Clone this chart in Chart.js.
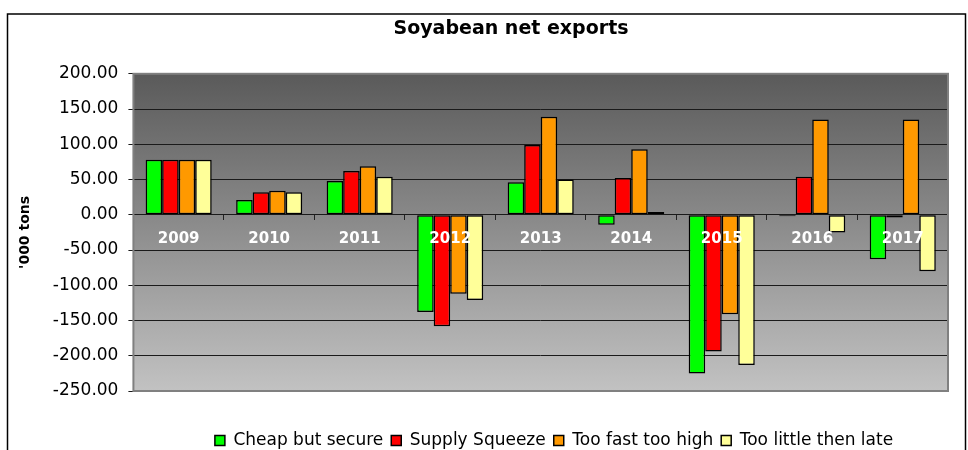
<!DOCTYPE html>
<html>
<head>
<meta charset="utf-8">
<script src="https://cdn.jsdelivr.net/npm/chart.js@4"></script>
<style>
  html, body { margin: 0; padding: 0; background: #fff; }
  #wrap { width: 968px; height: 450px; position: relative; }
</style>
</head>
<body>
<div id="wrap"><canvas id="chart"></canvas></div>
<script>
// categories and series
const years = ["2009", "2010", "2011", "2012", "2013", "2014", "2015", "2016", "2017"];
const cheapButSecure = [78, 21, 48, -138, 46, -14, -225, -2, -63];
const supplySqueeze = [78, 32, 62, -158, 99, 52, -194, 54, -4];
const tooFastTooHigh = [78, 34, 69, -112, 139, 93, -141, 135, 135];
const tooLittleThenLate = [78, 32, 54, -121, 50, 4, -213, -25, -80];

const seriesNames = ["Cheap but secure", "Supply Squeeze", "Too fast too high", "Too little then late"];
const seriesColors = ["#00ff00", "#ff0000", "#ff9900", "#ffff99"];

// grey gradient behind the plot, outer frame, and nudges for title/legend
const backdrop = {
    id: "backdrop",
    afterLayout(chart) {
        // title sits a bit right of the canvas centre in the original
        const t = chart.titleBlock;
        let w = t.right - t.left;
        t.left = 511 - w / 2;
        t.right = 511 + w / 2;
        // legend is centred under the plot and pushed down to the bottom edge
        const lg = chart.legend;
        w = lg.right - lg.left;
        lg.left = 554 - w / 2;
        lg.right = 554 + w / 2;
        lg.top += 33;
        lg.bottom += 33;
    },
    beforeDraw(chart) {
        const ctx = chart.ctx;
        const a = chart.chartArea;
        ctx.save();
        ctx.strokeStyle = "#000";
        ctx.lineWidth = 1.5;
        ctx.strokeRect(7.5, 14, 958, 460);
        let grad = ctx.createLinearGradient(0, a.top, 0, a.bottom);
        grad.addColorStop(0, "#5a5a5a");
        grad.addColorStop(1, "#c2c2c2");
        ctx.fillStyle = grad;
        ctx.fillRect(a.left, a.top, a.right - a.left, a.bottom - a.top);
        ctx.restore();
    },
    afterDraw(chart) {
        const ctx = chart.ctx;
        const a = chart.chartArea;
        ctx.save();
        ctx.strokeStyle = "#808080";
        ctx.lineWidth = 2;
        ctx.strokeRect(a.left, a.top, a.right - a.left, a.bottom - a.top);
        ctx.restore();
    }
};

const seriesData = [cheapButSecure, supplySqueeze, tooFastTooHigh, tooLittleThenLate];

new Chart(document.getElementById("chart"), {
    type: "bar",
    data: {
        labels: years,
        datasets: seriesData.map((vals, i) => ({
            label: seriesNames[i],
            data: vals,
            backgroundColor: seriesColors[i],
            borderColor: "#000",
            borderWidth: 1.5,
            borderSkipped: false,
            categoryPercentage: 0.73,
            barPercentage: 1
        }))
    },
    options: {
        responsive: true,
        maintainAspectRatio: false,
        animation: false,
        layout: { padding: { left: 17, right: 20, top: 0, bottom: 24 } },
        plugins: {
            title: {
                display: true,
                text: "Soyabean net exports",
                color: "#000",
                font: { family: "DejaVu Sans", size: 19, weight: "bold" },
                padding: { top: 18, bottom: 33 }
            },
            legend: {
                position: "bottom",
                labels: {
                    color: "#000",
                    boxWidth: 10,
                    boxHeight: 10,
                    padding: 8,
                    font: { family: "DejaVu Sans", size: 17 }
                }
            },
            tooltip: { enabled: false }
        },
        scales: {
            x: {
                position: { y: 0 },
                grid: { offset: true, drawOnChartArea: false, drawTicks: true, tickLength: 5, color: "#222" },
                border: { display: false },
                ticks: {
                    z: 1,
                    color: "#fff",
                    padding: 10,
                    font: { family: "DejaVu Sans", size: 15, weight: "bold" }
                }
            },
            y: {
                min: -250,
                max: 200,
                ticks: {
                    stepSize: 50,
                    color: "#000",
                    padding: 10,
                    font: { family: "DejaVu Sans", size: 17 },
                    callback: v => v.toFixed(2)
                },
                grid: { color: "#1a1a1a", tickLength: 5, lineWidth: 1 },
                border: { display: false },
                title: {
                    display: true,
                    text: "'000 tons",
                    color: "#000",
                    font: { family: "DejaVu Sans", size: 14, weight: "bold" },
                    padding: { top: 0, bottom: 9 }
                }
            }
        }
    },
    plugins: [backdrop]
});
</script>
</body>
</html>
